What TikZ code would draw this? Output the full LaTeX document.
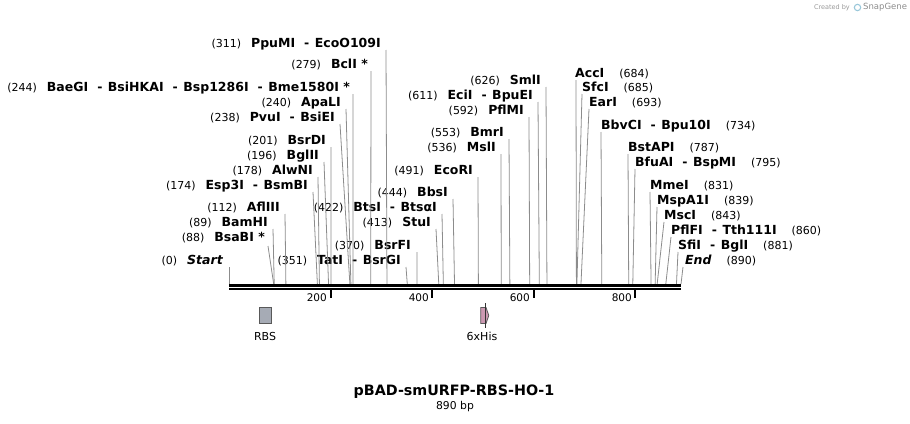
\documentclass[tikz,border=0pt]{standalone}
\usepackage{fontspec}
\setmainfont{DejaVu Sans}
\definecolor{rbsgray}{HTML}{A6ABB5}
\definecolor{hispink}{HTML}{CC99B2}
\newcommand\cutpos[1]{{\fontsize{11}{12}\selectfont(#1)}}
\newcommand\enz[1]{{\fontsize{12.5}{14}\selectfont\bfseries #1}}
\newcommand\dsh{\hspace{9pt}-\hspace{5.5pt}}
\newcommand\gapL{\hspace{10pt}}
\newcommand\gapR{\hspace{15pt}}

\begin{document}
\begin{tikzpicture}[x=1pt,y=-1pt,
  lblL/.style={anchor=base east,inner sep=0pt},
  lblR/.style={anchor=base west,inner sep=0pt},
  cut/.style={draw=black!45,line width=0.8pt},
  plain/.style={inner sep=0pt,font=\fontsize{10.5}{12}\selectfont}]
  \useasboundingbox (0,0) rectangle (910,423);

  % sites on the bar
  \coordinate (c0)   at (229,284);
  \coordinate (c88)  at ({229+0.5079*88},284);
  \coordinate (c89)  at ({229+0.5079*89},284);
  \coordinate (c112) at ({229+0.5079*112},284);
  \coordinate (c174) at ({229+0.5079*174},284);
  \coordinate (c178) at ({229+0.5079*178},284);
  \coordinate (c196) at ({229+0.5079*196},284);
  \coordinate (c201) at ({229+0.5079*201},284);
  \coordinate (c238) at ({229+0.5079*238},284);
  \coordinate (c240) at ({229+0.5079*240},284);
  \coordinate (c244) at ({229+0.5079*244},284);
  \coordinate (c279) at ({229+0.5079*279},284);
  \coordinate (c311) at ({229+0.5079*311},284);
  \coordinate (c351) at ({229+0.5079*351},284);
  \coordinate (c370) at ({229+0.5079*370},284);
  \coordinate (c413) at ({229+0.5079*413},284);
  \coordinate (c422) at ({229+0.5079*422},284);
  \coordinate (c444) at ({229+0.5079*444},284);
  \coordinate (c491) at ({229+0.5079*491},284);
  \coordinate (c536) at ({229+0.5079*536},284);
  \coordinate (c553) at ({229+0.5079*553},284);
  \coordinate (c592) at ({229+0.5079*592},284);
  \coordinate (c611) at ({229+0.5079*611},284);
  \coordinate (c626) at ({229+0.5079*626},284);
  \coordinate (c684) at ({229+0.5079*684},284);
  \coordinate (c685) at ({229+0.5079*685},284);
  \coordinate (c693) at ({229+0.5079*693},284);
  \coordinate (c734) at ({229+0.5079*734},284);
  \coordinate (c787) at ({229+0.5079*787},284);
  \coordinate (c795) at ({229+0.5079*795},284);
  \coordinate (c831) at ({229+0.5079*831},284);
  \coordinate (c839) at ({229+0.5079*839},284);
  \coordinate (c843) at ({229+0.5079*843},284);
  \coordinate (c860) at ({229+0.5079*860},284);
  \coordinate (c881) at ({229+0.5079*881},284);
  \coordinate (c890) at (681,284);

  % labels left of their lines
  \node[lblL] (ppumi)  at (381,47)  {\cutpos{311}\gapL\enz{PpuMI\dsh EcoO109I}};
  \node[lblL] (bcli)   at (368,68)  {\cutpos{279}\gapL\enz{BclI *}};
  \node[lblL] (baegi)  at (350,91)  {\cutpos{244}\gapL\enz{BaeGI\dsh BsiHKAI\dsh Bsp1286I\dsh Bme1580I *}};
  \node[lblL] (apali)  at (341,106) {\cutpos{240}\gapL\enz{ApaLI}};
  \node[lblL] (pvui)   at (335,121) {\cutpos{238}\gapL\enz{PvuI\dsh BsiEI}};
  \node[lblL] (bsrdi)  at (326,144) {\cutpos{201}\gapL\enz{BsrDI}};
  \node[lblL] (bglii)  at (319,159) {\cutpos{196}\gapL\enz{BglII}};
  \node[lblL] (alwni)  at (313,174) {\cutpos{178}\gapL\enz{AlwNI}};
  \node[lblL] (esp3i)  at (308,189) {\cutpos{174}\gapL\enz{Esp3I\dsh BsmBI}};
  \node[lblL] (afliii) at (280,211) {\cutpos{112}\gapL\enz{AflIII}};
  \node[lblL] (bamhi)  at (268,226) {\cutpos{89}\gapL\enz{BamHI}};
  \node[lblL] (bsabi)  at (265,241) {\cutpos{88}\gapL\enz{BsaBI *}};
  \node[lblL] (start)  at (223,264) {\cutpos{0}\gapL\enz{\itshape Start}};
  \node[lblL] (tati)   at (401,264) {\cutpos{351}\gapL\enz{TatI\dsh BsrGI}};
  \node[lblL] (bsrfi)  at (411,249) {\cutpos{370}\gapL\enz{BsrFI}};
  \node[lblL] (stui)   at (431,226) {\cutpos{413}\gapL\enz{StuI}};
  \node[lblL] (btsi)   at (437,211) {\cutpos{422}\gapL\enz{BtsI\dsh BtsαI}};
  \node[lblL] (bbsi)   at (448,196) {\cutpos{444}\gapL\enz{BbsI}};
  \node[lblL] (ecori)  at (473,174) {\cutpos{491}\gapL\enz{EcoRI}};
  \node[lblL] (msli)   at (496,151) {\cutpos{536}\gapL\enz{MslI}};
  \node[lblL] (bmri)   at (504,136) {\cutpos{553}\gapL\enz{BmrI}};
  \node[lblL] (pflmi)  at (524,114) {\cutpos{592}\gapL\enz{PflMI}};
  \node[lblL] (ecii)   at (533,99)  {\cutpos{611}\gapL\enz{EciI\dsh BpuEI}};
  \node[lblL] (smli)   at (541,84)  {\cutpos{626}\gapL\enz{SmlI}};

  % labels right of their lines
  \node[lblR] (acci)   at (575,77)  {\enz{AccI}\gapR\cutpos{684}};
  \node[lblR] (sfci)   at (582,91)  {\enz{SfcI}\gapR\cutpos{685}};
  \node[lblR] (eari)   at (589,106) {\enz{EarI}\gapR\cutpos{693}};
  \node[lblR] (bbvci)  at (601,129) {\enz{BbvCI\dsh Bpu10I}\gapR\cutpos{734}};
  \node[lblR] (bstapi) at (628,151) {\enz{BstAPI}\gapR\cutpos{787}};
  \node[lblR] (bfuai)  at (635,166) {\enz{BfuAI\dsh BspMI}\gapR\cutpos{795}};
  \node[lblR] (mmei)   at (650,189) {\enz{MmeI}\gapR\cutpos{831}};
  \node[lblR] (mspa1i) at (657,204) {\enz{MspA1I}\gapR\cutpos{839}};
  \node[lblR] (msci)   at (664,219) {\enz{MscI}\gapR\cutpos{843}};
  \node[lblR] (pflfi)  at (671,234) {\enz{PflFI\dsh Tth111I}\gapR\cutpos{860}};
  \node[lblR] (sfii)   at (678,249) {\enz{SfiI\dsh BglI}\gapR\cutpos{881}};
  \node[lblR] (endp)   at (685,264) {\enz{\itshape End}\gapR\cutpos{890}};

  \begin{scope}[every path/.style={cut}]
    \draw (c311) -- ([shift={(5,3)}]ppumi.base east);
    \draw (c279) -- ([shift={(3,3)}]bcli.base east);
    \draw (c244) -- ([shift={(3,3)}]baegi.base east);
    \draw (c240) -- ([shift={(5,3)}]apali.base east);
    \draw (c238) -- ([shift={(5,3)}]pvui.base east);
    \draw (c201) -- ([shift={(5,3)}]bsrdi.base east);
    \draw (c196) -- ([shift={(5,3)}]bglii.base east);
    \draw (c178) -- ([shift={(5,3)}]alwni.base east);
    \draw (c174) -- ([shift={(5,3)}]esp3i.base east);
    \draw (c112) -- ([shift={(5,3)}]afliii.base east);
    \draw (c89)  -- ([shift={(5,3)}]bamhi.base east);
    \draw (c88)  -- ([shift={(3,5)}]bsabi.base east);
    \draw (c0)   -- ([shift={(6,3)}]start.base east);
    \draw (c351) -- ([shift={(5,3)}]tati.base east);
    \draw (c370) -- ([shift={(6,3)}]bsrfi.base east);
    \draw (c413) -- ([shift={(5,3)}]stui.base east);
    \draw (c422) -- ([shift={(5,3)}]btsi.base east);
    \draw (c444) -- ([shift={(5,3)}]bbsi.base east);
    \draw (c491) -- ([shift={(5,3)}]ecori.base east);
    \draw (c536) -- ([shift={(5,3)}]msli.base east);
    \draw (c553) -- ([shift={(5,3)}]bmri.base east);
    \draw (c592) -- ([shift={(5,3)}]pflmi.base east);
    \draw (c611) -- ([shift={(5,3)}]ecii.base east);
    \draw (c626) -- ([shift={(5,3)}]smli.base east);
    \draw (c684) -- ([shift={(1,3)}]acci.base west);
    \draw (c685) -- ([shift={(0,3)}]sfci.base west);
    \draw (c693) -- ([shift={(0,3)}]eari.base west);
    \draw (c734) -- ([shift={(0,3)}]bbvci.base west);
    \draw (c787) -- ([shift={(0,3)}]bstapi.base west);
    \draw (c795) -- ([shift={(0,3)}]bfuai.base west);
    \draw (c831) -- ([shift={(0,3)}]mmei.base west);
    \draw (c839) -- ([shift={(0,3)}]mspa1i.base west);
    \draw (c843) -- ([shift={(0,3)}]msci.base west);
    \draw (c860) -- ([shift={(0,3)}]pflfi.base west);
    \draw (c881) -- ([shift={(0,3)}]sfii.base west);
    \draw (c890) -- ([shift={(-2,3)}]endp.base west);
  \end{scope}

  % the sequence bar
  \draw[line width=3pt] (229,285.2) -- (681,285.2);
  \draw[line width=2pt] (229,289.3) -- (681,289.3);
  \draw[line width=2pt] (330.6,290) -- (330.6,298);
  \draw[line width=2pt] (432.2,290) -- (432.2,298);
  \draw[line width=2pt] (533.7,290) -- (533.7,298);
  \draw[line width=2pt] (635.3,290) -- (635.3,298);
  \node[plain,anchor=base east] (t200) at (327,301.5) {200};
  \node[plain,anchor=base east] (t400) at (429,301.5) {400};
  \node[plain,anchor=base east] (t600) at (530,301.5) {600};
  \node[plain,anchor=base east] (t800) at (632,301.5) {800};

  % features
  \draw[fill=rbsgray,draw=black!65,line width=0.8pt] (259.5,307.5) rectangle (271,323.5);
  \node[plain,font=\fontsize{11}{13}\selectfont] (rbs) at (265,336) {RBS};
  \draw[fill=hispink,draw=black!65,line width=0.8pt]
    (480.7,307.5) -- (486,307.5) -- (488.8,315.5) -- (486,323.5) -- (480.7,323.5) -- cycle;
  \draw[line width=0.8pt,black!80] (485,303) -- (485,327.5);
  \node[plain,font=\fontsize{11}{13}\selectfont] (his) at (482,336) {6xHis};

  % title
  \node[inner sep=0pt,font=\fontsize{14.3}{16}\selectfont\bfseries] (title) at (454,392) {pBAD-smURFP-RBS-HO-1};
  \node[plain,font=\fontsize{10.8}{12}\selectfont] (len) at (455,407) {890 bp};

  % watermark
  \node[inner sep=0pt,anchor=east,text=black!40,font=\fontsize{6.5}{7}\selectfont] (made) at (850,7.5) {Created by};
  \draw[draw=cyan!50!gray!60,line width=1.1pt] (857.5,7.5) circle (3.2);
  \node[inner sep=0pt,anchor=west,text=black!45,font=\fontsize{8.5}{9}\selectfont] (sg) at (863,7.5) {SnapGene};
\end{tikzpicture}
\end{document}
